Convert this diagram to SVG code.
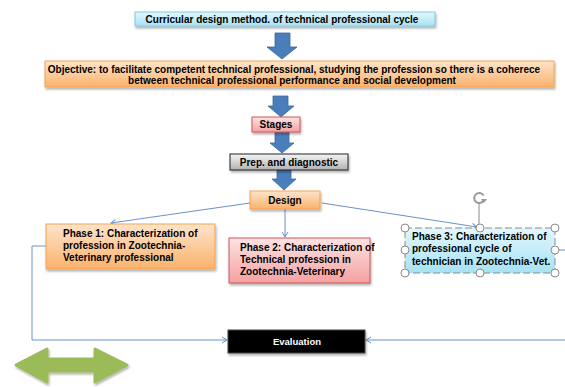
<svg xmlns="http://www.w3.org/2000/svg" width="565" height="387" viewBox="0 0 565 387">
<style>
text{font-family:"Liberation Sans",Arial,sans-serif;font-size:10px;font-weight:bold;fill:#000}
.c{text-anchor:middle}
.conn{fill:none;stroke:#6a92cc;stroke-width:1}
.big{fill:#4a7ebb;stroke:#3a689e;stroke-width:0.8}
.handle{fill:#fff;stroke:#8a8a8a;stroke-width:1}
</style>
<defs>
<linearGradient id="gBlue" x1="0" y1="0" x2="0" y2="1"><stop offset="0" stop-color="#e4f7fd"/><stop offset="1" stop-color="#a6e2f4"/></linearGradient>
<linearGradient id="gOrange" x1="0" y1="0" x2="0" y2="1"><stop offset="0" stop-color="#fde4cb"/><stop offset="1" stop-color="#fbb26c"/></linearGradient>
<linearGradient id="gPink" x1="0" y1="0" x2="0" y2="1"><stop offset="0" stop-color="#fde3e3"/><stop offset="1" stop-color="#f5a0a0"/></linearGradient>
<linearGradient id="gGray" x1="0" y1="0" x2="0" y2="1"><stop offset="0" stop-color="#f5f5f5"/><stop offset="1" stop-color="#b2b2b2"/></linearGradient>
<filter id="sh" x="-10%" y="-20%" width="120%" height="160%"><feDropShadow dx="1" dy="2" stdDeviation="1" flood-color="#000" flood-opacity="0.3"/></filter>
<marker id="ah" markerWidth="8" markerHeight="8" refX="6" refY="4" orient="auto" markerUnits="userSpaceOnUse"><polyline points="1,1 6,4 1,7" fill="none" stroke="#6a92cc" stroke-width="1"/></marker>
</defs>

<g id="connectors">
<line class="conn" x1="250" y1="203" x2="111" y2="223" marker-end="url(#ah)"/>
<line class="conn" x1="285" y1="209" x2="285" y2="237" marker-end="url(#ah)"/>
<line class="conn" x1="322" y1="203" x2="477" y2="227" marker-end="url(#ah)"/>
<polyline class="conn" points="46,246 32,246 32,340 227,340" marker-end="url(#ah)"/>
<line class="conn" x1="555" y1="250" x2="565" y2="250"/>
<line class="conn" x1="565" y1="340" x2="366" y2="340" marker-end="url(#ah)"/>
<polygon class="big" points="275,33 290,33 290,47 297,47 282,59 267,47 275,47"/>
<polygon class="big" points="273,96 288,96 288,106 294,106 281,117 268,106 273,106"/>
<polygon class="big" points="275,132 289,132 289,143 294,143 282,153 270,143 275,143"/>
<polygon class="big" points="277,170 291,170 291,179 296,179 284,190 272,179 277,179"/>
</g>

<g id="title">
<rect x="135" y="12" width="300" height="14" fill="url(#gBlue)" stroke="#86c8dc" stroke-width="1" filter="url(#sh)"/>
<text class="c" x="282" y="22.5">Curricular design method. of technical professional cycle</text>
</g>

<g id="objective">
<rect x="45" y="61" width="509" height="26" fill="url(#gOrange)" stroke="#f4a352" stroke-width="1" filter="url(#sh)"/>
<text class="c" x="294" y="73">Objective: to facilitate competent technical professional, studying the profession so there is a coherece</text>
<text class="c" x="292" y="84">between technical professional performance and social development</text>
</g>

<g id="stages">
<rect x="252" y="117" width="48" height="15" fill="url(#gPink)" stroke="#c9575a" stroke-width="1" filter="url(#sh)"/>
<text class="c" x="276" y="128">Stages</text>
</g>

<g id="prep">
<rect x="230" y="154" width="118" height="16" fill="url(#gGray)" stroke="#222" stroke-width="1" filter="url(#sh)"/>
<text class="c" x="289" y="165.5">Prep. and diagnostic</text>
</g>

<g id="design">
<rect x="250" y="191" width="70" height="18" fill="url(#gOrange)" stroke="#f4a352" stroke-width="1" filter="url(#sh)"/>
<text class="c" x="285" y="203.5">Design</text>
</g>

<g id="phase1">
<rect x="46" y="224" width="169" height="45" fill="url(#gOrange)" stroke="#f4a352" stroke-width="1" filter="url(#sh)"/>
<text x="63" y="237">Phase 1: Characterization of</text>
<text x="63" y="249">profession in Zootechnia-</text>
<text x="63" y="261">Veterinary professional</text>
</g>

<g id="phase2">
<rect x="229" y="238" width="141" height="45" fill="url(#gPink)" stroke="#c9575a" stroke-width="1" filter="url(#sh)"/>
<text x="240" y="251">Phase 2: Characterization of</text>
<text x="240" y="263">Technical profession in</text>
<text x="240" y="275">Zootechnia-Veterinary</text>
</g>

<g id="phase3">
<rect x="405" y="228" width="150" height="45" fill="url(#gBlue)" stroke="#8a8a8a" stroke-width="1" stroke-dasharray="7,3"/>
<text x="412" y="240">Phase 3: Characterization of</text>
<text x="412" y="252">professional cycle of</text>
<text x="412" y="264.5">technician in Zootechnia-Vet.</text>
<line x1="479" y1="203" x2="479" y2="224" stroke="#8a8a8a" stroke-width="1"/>
<path d="M483.5,195.5 A5,5 0 1 0 483.8,200" fill="none" stroke="#9a9a9a" stroke-width="2"/>
<polygon points="481,199 487,199 484,203" fill="#9a9a9a"/>
<circle class="handle" cx="405" cy="228" r="4"/>
<circle class="handle" cx="480" cy="228" r="4"/>
<circle class="handle" cx="555" cy="228" r="4"/>
<circle class="handle" cx="405" cy="250" r="4"/>
<circle class="handle" cx="555" cy="250" r="4"/>
<circle class="handle" cx="405" cy="273" r="4"/>
<circle class="handle" cx="480" cy="273" r="4"/>
<circle class="handle" cx="555" cy="273" r="4"/>
</g>

<g id="evaluation">
<rect x="228" y="330" width="137" height="23" fill="#000" stroke="#444" stroke-width="1" filter="url(#sh)"/>
<text class="c" x="297" y="345" style="fill:#fff;font-size:9.5px">Evaluation</text>
</g>

<g id="green-arrow">
<polygon points="16,365 47,349 47,359 95,359 95,349 127,365 95,382 95,371 47,371 47,382" fill="#9bbb59" stroke="#9bbb59" stroke-width="3" stroke-linejoin="round" filter="url(#sh)"/>
</g>
</svg>
